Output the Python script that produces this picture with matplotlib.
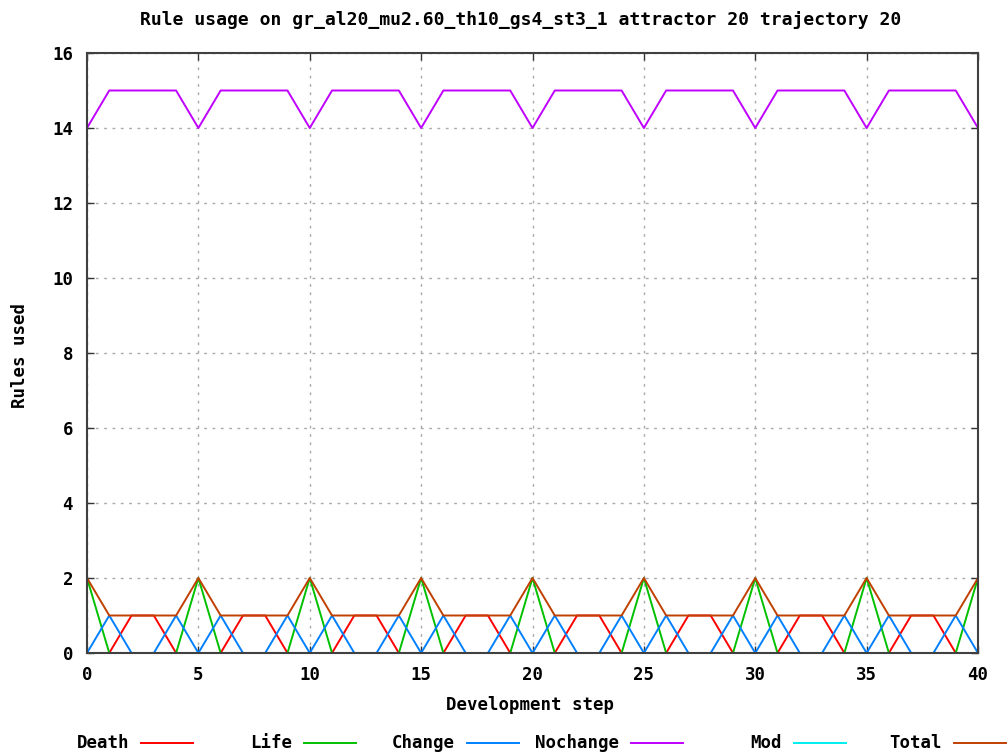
import matplotlib.pyplot as plt
from matplotlib.lines import Line2D

# development steps 0..40
steps = list(range(41))

death    = [0, 0, 1, 1, 0, 0, 0, 1, 1, 0, 0, 0, 1, 1, 0, 0, 0, 1, 1, 0, 0,
            0, 1, 1, 0, 0, 0, 1, 1, 0, 0, 0, 1, 1, 0, 0, 0, 1, 1, 0, 0]
life     = [2, 0, 0, 0, 0, 2, 0, 0, 0, 0, 2, 0, 0, 0, 0, 2, 0, 0, 0, 0, 2,
            0, 0, 0, 0, 2, 0, 0, 0, 0, 2, 0, 0, 0, 0, 2, 0, 0, 0, 0, 2]
change   = [0, 1, 0, 0, 1, 0, 1, 0, 0, 1, 0, 1, 0, 0, 1, 0, 1, 0, 0, 1, 0,
            1, 0, 0, 1, 0, 1, 0, 0, 1, 0, 1, 0, 0, 1, 0, 1, 0, 0, 1, 0]
nochange = [14, 15, 15, 15, 15, 14, 15, 15, 15, 15, 14, 15, 15, 15, 15, 14, 15, 15, 15, 15, 14,
            15, 15, 15, 15, 14, 15, 15, 15, 15, 14, 15, 15, 15, 15, 14, 15, 15, 15, 15, 14]
mod      = [0] * 41
total    = [2, 1, 1, 1, 1, 2, 1, 1, 1, 1, 2, 1, 1, 1, 1, 2, 1, 1, 1, 1, 2,
            1, 1, 1, 1, 2, 1, 1, 1, 1, 2, 1, 1, 1, 1, 2, 1, 1, 1, 1, 2]

names = ['Death', 'Life', 'Change', 'Nochange', 'Mod', 'Total']
colors = ['#ff0000', '#00c000', '#0080ff', '#c000ff', '#00eeee', '#c04000']
series = [death, life, change, nochange, mod, total]

xticks = [0, 5, 10, 15, 20, 25, 30, 35, 40]
yticks = [0, 2, 4, 6, 8, 10, 12, 14, 16]

plt.rcParams['font.family'] = 'DejaVu Sans Mono'
plt.rcParams['font.weight'] = 'bold'
fs = 12.5

W, H = 1007, 754
fig = plt.figure(figsize=(W / 100, H / 100), dpi=100)
ax = fig.add_axes([87 / W, 1 - 653 / H, (978 - 87) / W, (653 - 53) / H])

for vals, c in zip(series, colors):
    ax.plot(steps, vals, color=c, linewidth=1.4)

ax.set_xlim(0, 40)
ax.set_ylim(0, 16)
ax.set_xticks(xticks)
ax.set_yticks(yticks)
ax.tick_params(direction='in', top=True, right=True, length=5, width=1,
               labelsize=fs, colors='#333333', labelcolor='black')
ax.tick_params(axis='x', pad=9)
ax.tick_params(axis='y', pad=10)
ax.grid(True, linestyle=(0, (2, 4)), color='#aaaaaa', linewidth=1)
for s in ax.spines.values():
    s.set_color('#404040')
    s.set_linewidth(1.5)

fig.text(521 / W, 1 - 20 / H, 'Rule usage on gr_al20_mu2.60_th10_gs4_st3_1 attractor 20 trajectory 20',
         ha='center', va='center', fontsize=13)
fig.text(530 / W, 1 - 705 / H, 'Development step', ha='center', va='center', fontsize=fs)
fig.text(20 / W, 1 - 355 / H, 'Rules used', ha='center', va='center', rotation=90, fontsize=fs)

# legend row under the x label
line_ends = [193, 356, 519, 683, 846, 1006]
ly = 1 - 743 / H
for name, c, xe in zip(names, colors, line_ends):
    xs = xe - 52
    fig.add_artist(Line2D([xs / W, xe / W], [ly, ly], color=c, linewidth=1.4))
    fig.text((xs - 12) / W, ly, name, ha='right', va='center', fontsize=fs)

fig.savefig('out.png', dpi=100)
